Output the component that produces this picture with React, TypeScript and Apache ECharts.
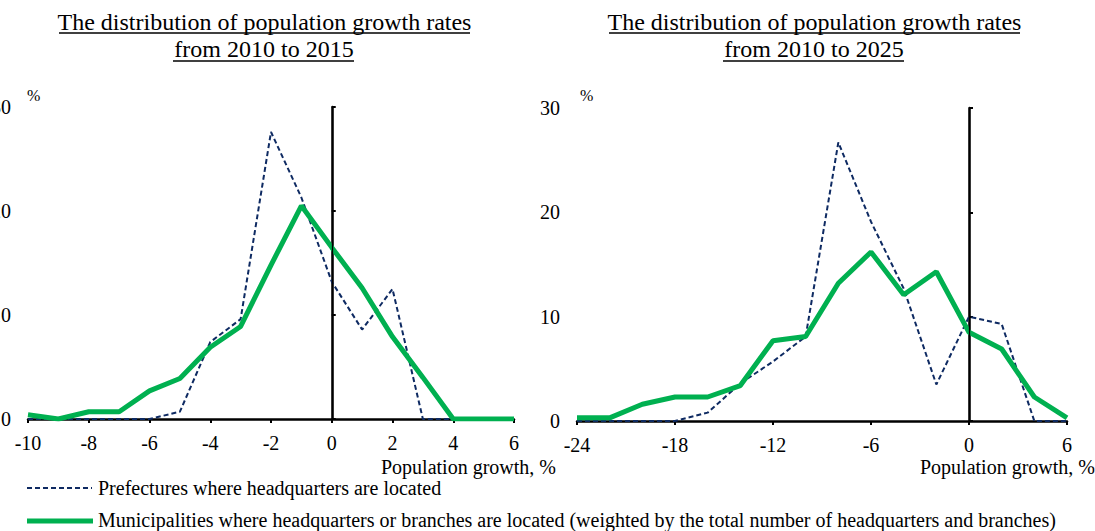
import React, { useEffect, useRef } from "react";
import * as echarts from "echarts";

const leftX = [-10, -9, -8, -7, -6, -5, -4, -3, -2, -1, 0, 1, 2, 3, 4, 5, 6];
const leftPrefectures = [0, 0, 0, 0, 0, 0.7, 7.4, 9.6, 27.6, 21.3, 13.2, 8.6, 12.5, 0, 0, 0, 0];
const leftMunicipalities = [0.4, 0, 0.7, 0.7, 2.7, 3.9, 6.9, 8.9, 14.8, 20.5, 16.5, 12.6, 7.9, 4.0, 0, 0, 0];

const rightX = [-24, -22, -20, -18, -16, -14, -12, -10, -8, -6, -4, -2, 0, 2, 4, 6];
const rightPrefectures = [0, 0, 0, 0, 0.8, 3.6, 5.7, 8.1, 26.7, 19.1, 12.7, 3.5, 10.0, 9.3, 0, 0];
const rightMunicipalities = [0.3, 0.3, 1.6, 2.3, 2.3, 3.4, 7.7, 8.1, 13.2, 16.2, 12.1, 14.3, 8.5, 6.9, 2.3, 0.3];

const titleLine1 = "The distribution of population growth rates";
const leftTitle2 = "from 2010 to 2015";
const rightTitle2 = "from 2010 to 2025";
const prefName = "Prefectures where headquarters are located";
const muniName =
  "Municipalities where headquarters or branches are located (weighted by the total number of headquarters and branches)";
const xName = "Population growth, %";

const FONT = "Liberation Serif";
const GREEN = "#00B050";
const NAVY = "#0E2A62";

const zip = (xs: number[], ys: number[]) => xs.map((x, i) => [x, ys[i]]);

export default function App() {
  const ref = useRef<HTMLDivElement>(null);
  useEffect(() => {
    if (!ref.current) return;
    const chart = echarts.init(ref.current, null, { renderer: "svg" });

    const yAxisCommon = (gi: number) => ({
      type: "value" as const,
      gridIndex: gi,
      min: 0,
      max: 30,
      interval: 10,
      axisLine: { show: true, lineStyle: { color: "#000", width: 2.5 } },
      axisTick: { show: true, inside: true, length: 4, lineStyle: { color: "#000", width: 2 } },
      axisLabel: { color: "#000", fontFamily: FONT, fontSize: 20, margin: 17 },
      splitLine: { show: false },
    });

    const xAxisCommon = (gi: number, min: number, max: number, interval: number) => ({
      type: "value" as const,
      gridIndex: gi,
      min,
      max,
      interval,
      axisLine: { show: true, onZero: false, lineStyle: { color: "#000", width: 2.5 } },
      axisTick: { show: true, inside: false, length: 4, lineStyle: { color: "#000", width: 2 } },
      axisLabel: { color: "#000", fontFamily: FONT, fontSize: 20, margin: 14 },
      splitLine: { show: false },
    });

    const prefSeries = (gi: number, data: number[][]) => ({
      type: "line" as const,
      name: prefName,
      xAxisIndex: gi,
      yAxisIndex: gi,
      data,
      symbol: "none",
      lineStyle: { color: NAVY, width: 2, type: [5, 3] as any },
      itemStyle: { color: NAVY },
      z: 3,
      markLine: {
        silent: true,
        symbol: "none",
        label: { show: false },
        lineStyle: { color: "#000", width: 1.3, type: "solid" },
        data: [{ xAxis: 0 }],
      },
    });

    const muniSeries = (gi: number, data: number[][]) => ({
      type: "line" as const,
      name: muniName,
      xAxisIndex: gi,
      yAxisIndex: gi,
      data,
      symbol: "none",
      lineStyle: { color: GREEN, width: 5 },
      itemStyle: { color: GREEN },
      z: 4,
    });

    const textG = (text: string, x: number, y: number, size: number, align = "left") => ({
      type: "text",
      x,
      y,
      style: {
        text,
        fill: "#000",
        fontFamily: FONT,
        fontSize: size,
        align,
        verticalAlign: "middle",
      },
    });
    const hline = (x1: number, x2: number, y: number, stroke: string, lineWidth: number, lineDash?: number[]) => ({
      type: "line",
      shape: { x1, y1: y, x2, y2: y },
      style: { stroke, lineWidth, lineDash },
    });

    chart.setOption({
      animation: false,
      grid: [
        { left: 28, right: 581, top: 107, bottom: 112, outerBoundsMode: "none", containLabel: false },
        { left: 577, right: 28, top: 108, bottom: 110, outerBoundsMode: "none", containLabel: false },
      ],
      xAxis: [xAxisCommon(0, -10, 6, 2), xAxisCommon(1, -24, 6, 6)],
      yAxis: [yAxisCommon(0), yAxisCommon(1)],
      series: [
        prefSeries(0, zip(leftX, leftPrefectures)),
        muniSeries(0, zip(leftX, leftMunicipalities)),
        prefSeries(1, zip(rightX, rightPrefectures)),
        muniSeries(1, zip(rightX, rightMunicipalities)),
      ],
      graphic: [
        textG(titleLine1, 264.5, 22, 24, "center"),
        textG(leftTitle2, 264, 49, 24, "center"),
        hline(59, 470, 33, "#000", 1.4),
        hline(173, 354, 61, "#000", 1.4),
        textG(titleLine1, 814.5, 22, 24, "center"),
        textG(rightTitle2, 814, 49, 24, "center"),
        hline(609, 1020, 33, "#000", 1.4),
        hline(723, 904, 61, "#000", 1.4),
        textG("%", 27, 95, 16),
        textG("%", 580, 95, 16),
        textG(xName, 381, 467, 20),
        textG(xName, 920, 467, 20),
        hline(27, 92, 488, NAVY, 2.2, [5, 3]),
        textG(prefName, 98, 488, 20),
        hline(27, 93, 521, GREEN, 5),
        textG(muniName, 98, 520, 20),
      ],
    });
    return () => chart.dispose();
  }, []);
  return (
    <div
      ref={ref}
      style={{ position: "fixed", left: 0, top: 0, width: 1095, height: 531, background: "#fff" }}
    />
  );
}
